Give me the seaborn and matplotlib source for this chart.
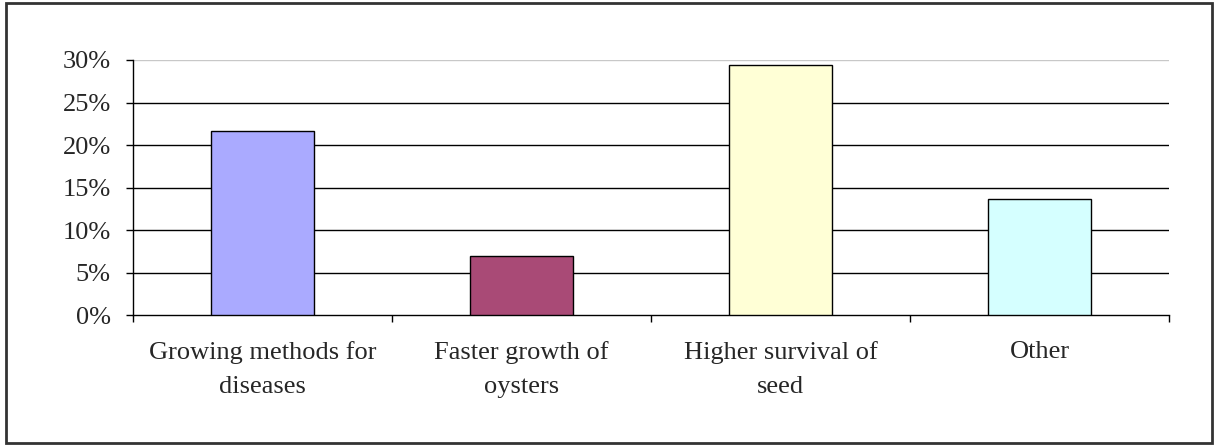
import numpy as np
import pandas as pd
import matplotlib.pyplot as plt
import seaborn as sb
from matplotlib.patches import Rectangle
from matplotlib.ticker import FixedLocator, NullFormatter

categorias = ["Growing methods for\ndiseases", "Faster growth of\noysters",
              "Higher survival of\nseed", "Other"]
porcentajes = [21.7, 7.0, 29.4, 13.7]
colores = ["#AAAAFF", "#A94A76", "#FFFFD6", "#D5FFFF"]
ticks_y = [0, 5, 10, 15, 20, 25, 30]

df = pd.DataFrame({"cat": categorias, "pct": porcentajes})

sb.set_theme(style="white")
plt.rcParams['font.family'] = ['Liberation Serif', 'DejaVu Serif']

fig = plt.figure(figsize=(12.15, 4.46), dpi=100)
ax = fig.add_axes([133/1215, 1 - 315/446, (1169 - 133)/1215, (315 - 60)/446])

# marco exterior
fig.patches.append(Rectangle((6/1215, 3/446), 1 - 9/1215, 1 - 6/446,
                             transform=fig.transFigure, fill=False,
                             edgecolor="#333333", linewidth=2))

sb.barplot(data=df, x="cat", y="pct", hue="cat", palette=colores, legend=False,
           width=0.4, saturation=1, edgecolor="black", linewidth=1, ax=ax, zorder=3)

# lineas de cuadricula
for v in ticks_y[1:-1]:
    ax.axhline(v, color="black", linewidth=1, zorder=1)
ax.axhline(30, color="#c8c8c8", linewidth=1, zorder=1)

ax.set_ylim(0, 30)
ax.set_xlim(-0.5, 3.5)
ax.set_yticks(ticks_y)
ax.set_yticklabels([f"{v}%" for v in ticks_y], fontsize=19)

ax.xaxis.set_major_locator(FixedLocator([-0.5, 0.5, 1.5, 2.5, 3.5]))
ax.xaxis.set_major_formatter(NullFormatter())
ax.xaxis.set_minor_locator(FixedLocator([0, 1, 2, 3]))
ax.set_xticklabels(categorias, minor=True, fontsize=19, linespacing=1.7, va="top")
ax.tick_params(axis="x", which="minor", length=0, pad=19)
ax.tick_params(axis="x", which="major", direction="out", length=5, width=1, color="black", bottom=True)
ax.tick_params(axis="y", direction="out", length=5, width=1, color="black", pad=11, left=True)

ax.set_xlabel("")
ax.set_ylabel("")
for s in ["top", "right"]:
    ax.spines[s].set_visible(False)
for s in ["left", "bottom"]:
    ax.spines[s].set_color("black")
    ax.spines[s].set_linewidth(1)

plt.savefig("out.png", dpi=100)
